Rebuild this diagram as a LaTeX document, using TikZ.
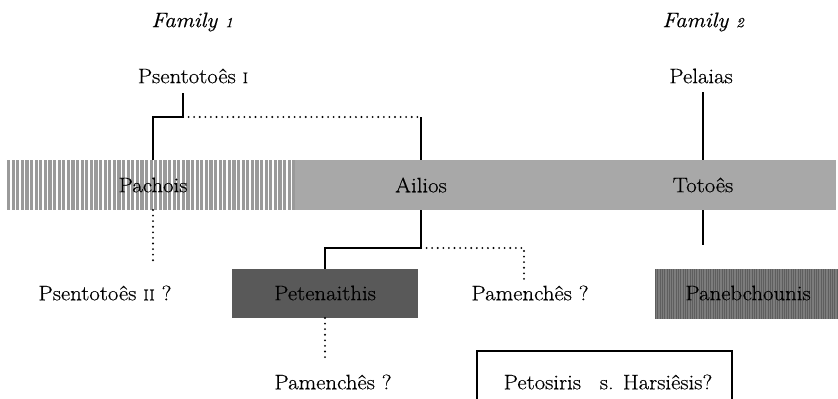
\documentclass[tikz,border=0pt]{standalone}
\usepackage{fontspec}
\setmainfont{Latin Modern Roman}[FakeStretch=1.09, FakeBold=0.45]
\definecolor{barg}{HTML}{A8A8A8}
\definecolor{hatchg}{HTML}{9A9A9A}
\definecolor{darkg}{HTML}{595959}
\definecolor{pang}{HTML}{7C7C7C}
\definecolor{pans}{HTML}{5E5E5E}
\tikzset{
  lbl/.style={font=\fontsize{21}{23}\selectfont, inner sep=0pt, anchor=center},
  fam/.style={font=\fontsize{21}{23}\selectfont\itshape, inner sep=0pt},
  solidline/.style={line width=1.8pt, black},
  dotline/.style={line width=2.1pt, black, line cap=round, dash pattern=on 0pt off 5.6pt},
}
\newcommand{\osn}[1]{{\fontsize{14}{14}\selectfont #1}}
\newcommand{\smc}[1]{{\fontsize{15.5}{16}\selectfont #1}}
\begin{document}
\begin{tikzpicture}[x=1bp,y=-1bp]
\useasboundingbox (0,0) rectangle (838,398);
% bar
\fill[barg] (295,160) rectangle (836,210);
\fill[white] (7,160) rectangle (295,210);
\begin{scope}
\clip (7,160) rectangle (295,210);
\foreach \i in {0,...,63} { \fill[hatchg] (7+\i*4.6,160) rectangle ++(3.1,50); }
\end{scope}
% Panebchounis box
\fill[pang] (655,269) rectangle (838,319);
\begin{scope}
\clip (655,269) rectangle (838,319);
\foreach \i in {0,...,80} { \fill[pans] (655+\i*2.3,269) rectangle ++(1.0,50); }
\end{scope}
% Petenaithis box
\fill[darkg] (232,269) rectangle (418,318);
% Petosiris box
\draw[line width=1.6pt] (477,410) -- (477,351) -- (732,351) -- (732,410);

% text nodes
\node[fam] (f1) at (192,22) {Family \osn{1}};
\node[fam] (f2) at (703,22) {Family \osn{2}};
\node[lbl] (ps1) at (193,76) {Psentotoês \smc{I}};
\node[lbl] (pel) at (701,76) {Pelaias};
\node[lbl] (pach) at (153,185) {Pachois};
\node[lbl] (ail) at (421,185) {Ailios};
\node[lbl] (tot) at (703,185) {Totoês};
\node[lbl] (ps2) at (105,293) {Psentotoês \smc{II} ?};
\node[lbl] (pet) at (325,293) {Petenaithis};
\node[lbl] (pam1) at (530,293) {Pamenchês ?};
\node[lbl] (pan) at (748,293) {Panebchounis};
\node[lbl] (pam2) at (333,382) {Pamenchês ?};
\node[lbl] (pto) at (608,382) {Petosiris\hspace{0.9em}s. Harsiêsis?};

% junction coordinates
\coordinate (a1) at (183,93);
\coordinate (a2) at (183,117);
\coordinate (a4) at (153,160);
\coordinate (b1) at (421,117);
\coordinate (b2) at (421,160);
\coordinate (c1) at (703,92);
\coordinate (c2) at (703,160);
\coordinate (d1) at (153,210);
\coordinate (d2) at (153,265);
\coordinate (e1) at (421,210);
\coordinate (e2) at (421,248);
\coordinate (e3) at (325,269);
\coordinate (e4) at (524,283);
\coordinate (g1) at (703,210);
\coordinate (g2) at (703,245);
\coordinate (h1) at (325,318);
\coordinate (h2) at (325,361);

\draw[solidline] (a1) -- (a2) -| (a4);
\draw[dotline] (a2) -- (b1);
\draw[solidline] (b1) -- (b2);
\draw[solidline] (c1) -- (c2);
\draw[dotline] (d1) -- (d2);
\draw[solidline] (e1) -- (e2) -| (e3);
\draw[dotline] (e2) -| (e4);
\draw[solidline] (g1) -- (g2);
\draw[dotline] (h1) -- (h2);
\end{tikzpicture}
\end{document}
